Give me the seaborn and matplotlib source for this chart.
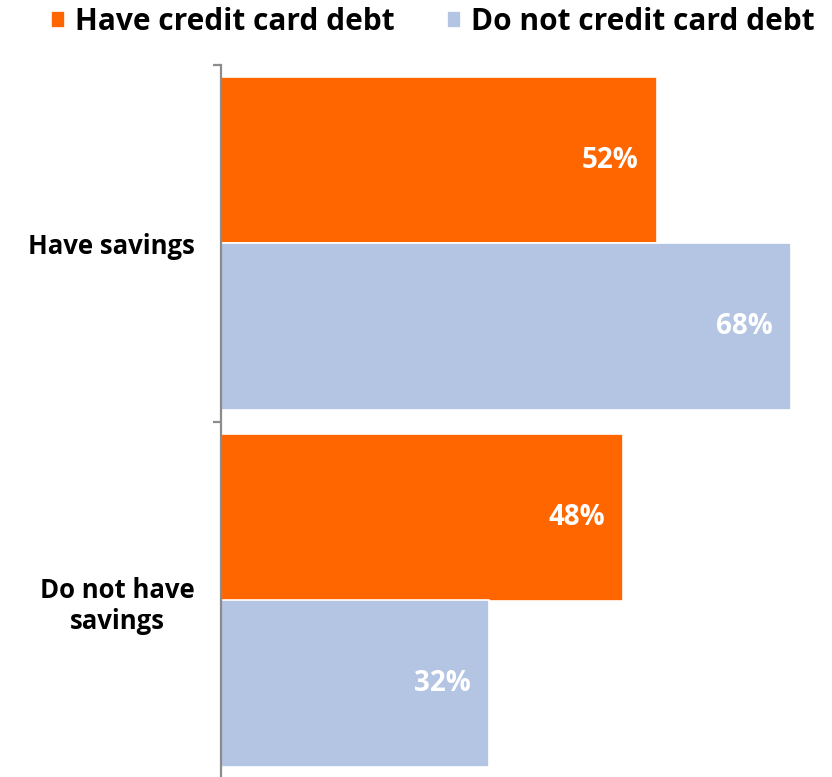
import matplotlib
matplotlib.use("Agg")
import matplotlib.pyplot as plt
import seaborn as sns
import pandas as pd

groups = ["Have savings", "Do not have\nsavings"]
series = ["Have credit card debt", "Do not credit card debt"]
debt_values = [52, 48]
no_debt_values = [68, 32]
colors = ["#FF6600", "#B4C4E3"]

df = pd.DataFrame({
    "group": groups * 2,
    "series": [series[0]] * 2 + [series[1]] * 2,
    "value": debt_values + no_debt_values,
})

sns.set_theme(style="white")
plt.rcParams["font.family"] = ["Open Sans", "DejaVu Sans"]
plt.rcParams["font.weight"] = "bold"
plt.rcParams["text.color"] = "black"

fig = plt.figure(figsize=(8.32, 7.77), dpi=100)
ax = fig.add_axes([221 / 832, -2 / 777, 611 / 832, 714 / 777])

sns.barplot(data=df, y="group", x="value", hue="series", order=groups,
            hue_order=series, palette=colors, saturation=1, orient="h",
            width=0.93, edgecolor="white", linewidth=1.2, ax=ax, legend=True)

ax.set_xlim(0, 72.9)
ax.set_ylim(1.5, -0.5)
ax.set_xlabel("")
ax.set_ylabel("")
ax.set_xticks([])

for spine in ["top", "right", "bottom"]:
    ax.spines[spine].set_visible(False)
ax.spines["left"].set_color("#8C8C8C")
ax.spines["left"].set_linewidth(1.6)

ax.set_yticks([0, 1])
ax.set_yticklabels(groups, fontsize=18.5, fontweight="bold", color="black",
                   multialignment="center")
ax.tick_params(axis="y", which="major", length=0, pad=19)
ax.set_yticks([-0.5, 0.5, 1.5], minor=True)
ax.tick_params(axis="y", which="minor", length=6, width=1.6,
               color="#8C8C8C", left=True)

for container in ax.containers:
    for bar in container:
        w = bar.get_width()
        ax.annotate(f"{w:.0f}%", xy=(w, bar.get_y() + bar.get_height() / 2),
                    xytext=(-18, 0), textcoords="offset pixels",
                    ha="right", va="center", color="white",
                    fontsize=20, fontweight="bold")

handles, labels = ax.get_legend_handles_labels()
ax.legend_.remove()
leg = fig.legend(handles, labels, loc="upper left",
                 bbox_to_anchor=(51 / 832, 1 - 7 / 777), ncol=2, frameon=False,
                 handlelength=0.47, handleheight=0.47, handletextpad=0.33,
                 columnspacing=1.75, borderpad=0, borderaxespad=0,
                 prop={"weight": "bold", "size": 21.5})
for t in leg.get_texts():
    t.set_color("black")

fig.savefig("out.png", dpi=100)
